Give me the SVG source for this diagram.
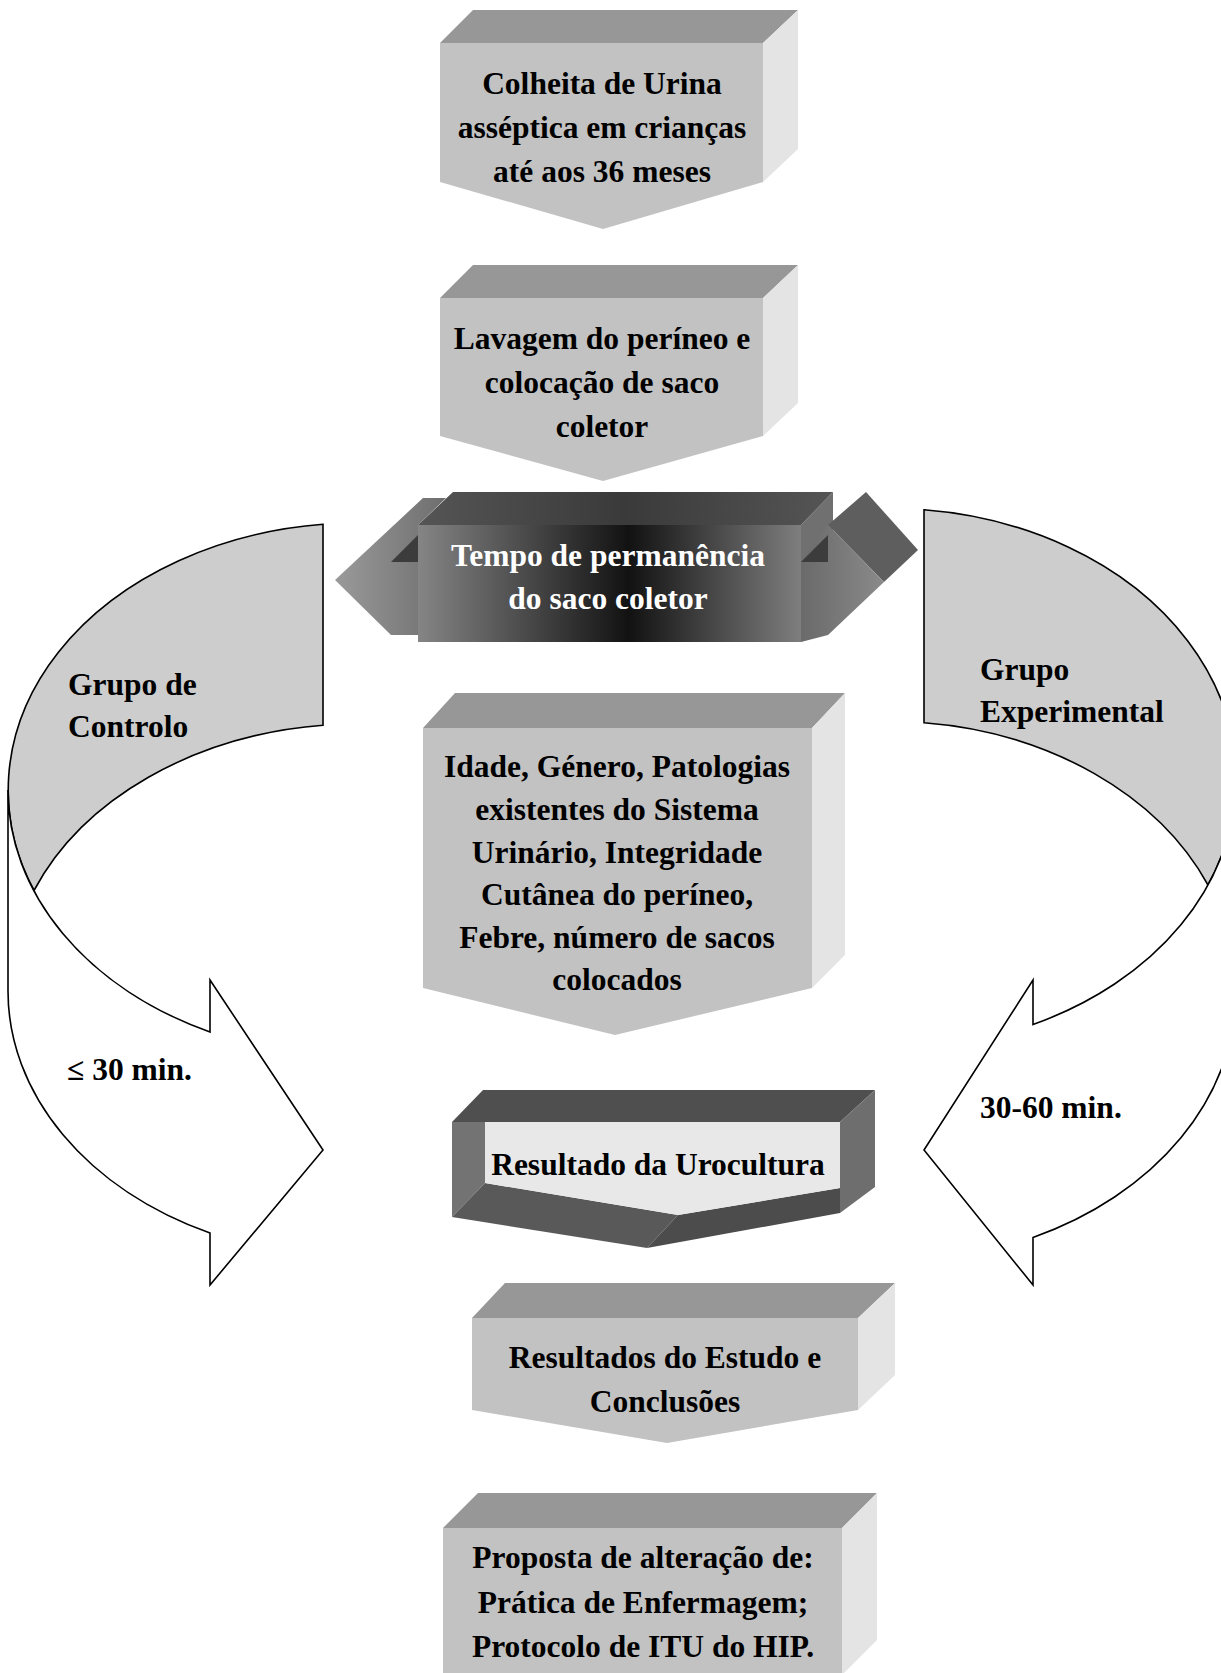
<svg xmlns="http://www.w3.org/2000/svg" width="1221" height="1673" viewBox="0 0 1221 1673">
<style>
text{font-family:"Liberation Serif","Times New Roman",serif;font-weight:bold;font-size:31.5px;fill:#000;text-anchor:middle}
.lbl{text-anchor:start}
.wt{fill:#fff}
.top{fill:#979797}
.front{fill:#c2c2c2}
.side{fill:#e4e4e4}
.band{fill:#cdcdcd;stroke:#000;stroke-width:1.6}
.white{fill:#fff;stroke:#000;stroke-width:1.6}
</style>
<defs>
<linearGradient id="gFront" x1="0" y1="0" x2="1" y2="0">
<stop offset="0" stop-color="#858585"/>
<stop offset="0.55" stop-color="#121212"/>
<stop offset="1" stop-color="#7e7e7e"/>
</linearGradient>
<linearGradient id="gTop" x1="0" y1="0" x2="1" y2="0">
<stop offset="0" stop-color="#555"/>
<stop offset="0.5" stop-color="#3a3a3a"/>
<stop offset="1" stop-color="#555"/>
</linearGradient>
<linearGradient id="gHeadL" x1="0" y1="0" x2="1" y2="0">
<stop offset="0" stop-color="#9a9a9a"/>
<stop offset="1" stop-color="#6e6e6e"/>
</linearGradient>
<linearGradient id="gHeadR" x1="0" y1="0" x2="1" y2="0">
<stop offset="0" stop-color="#6a6a6a"/>
<stop offset="1" stop-color="#8a8a8a"/>
</linearGradient>
</defs>

<g id="connectors">
<g id="arrow-controlo">
<path class="band" d="M323,524.3 A350,267 0 0 0 34,890.5 A350,267 0 0 1 323,725.3 Z"/>
<path class="white" d="M8,790 L8,991 A350,267 0 0 0 210,1233 L210,1285 L323,1150 L210,980 L210,1032 A350,267 0 0 1 8,790 Z"/>
<text class="lbl" x="68" y="695">Grupo de</text>
<text class="lbl" x="68" y="737">Controlo</text>
<text class="lbl" x="67" y="1080">≤ 30 min.</text>
</g>
<g id="arrow-experimental">
<path class="band" d="M924,509.8 A346,270 0 0 1 1208,885 A346,270 0 0 0 924,722.8 Z"/>
<path class="white" d="M1236,778.5 L1236,991.5 A346,270 0 0 1 1033,1237.5 L1033,1285 L924,1150 L1033,980 L1033,1024.5 A346,270 0 0 0 1236,778.5 Z"/>
<text class="lbl" x="980" y="680">Grupo</text>
<text class="lbl" x="980" y="722">Experimental</text>
<text class="lbl" x="980" y="1118">30-60 min.</text>
</g>
</g>

<g id="n1">
<polygon class="top" points="440,43 473,10 798,10 763,43"/>
<polygon class="side" points="763,43 798,10 798,149 763,182"/>
<polygon class="front" points="440,43 763,43 763,182 603,229 440,182"/>
<text x="602" y="94">Colheita de Urina</text>
<text x="602" y="138">asséptica em crianças</text>
<text x="602" y="182">até aos 36 meses</text>
</g>

<g id="n2">
<polygon class="top" points="440,298 473,265 798,265 763,298"/>
<polygon class="side" points="763,298 798,265 798,403 763,436"/>
<polygon class="front" points="440,298 763,298 763,436 603,481 440,436"/>
<text x="602" y="349">Lavagem do períneo e</text>
<text x="602" y="393">colocação de saco</text>
<text x="602" y="437">coletor</text>
</g>

<g id="n3">
<polygon fill="url(#gHeadL)" points="335,580 423,498 446,498 418,525 418,635 391,635"/>
<polygon fill="#3c3c3c" points="391,562 418,535 418,562"/>
<polygon fill="#707070" points="801,525 833,492 833,610 801,642"/>
<polygon fill="#5e5e5e" points="828,525 866,492 918,550 884,582"/>
<polygon fill="url(#gHeadR)" points="801,562 828,525 884,582 828,635 801,642"/>
<polygon fill="#3c3c3c" points="801,562 828,535 828,562"/>
<polygon fill="url(#gTop)" points="418,525 453,492 833,492 801,525"/>
<rect x="418" y="525" width="383" height="117" fill="url(#gFront)"/>
<text class="wt" x="608" y="566">Tempo de permanência</text>
<text class="wt" x="608" y="609">do saco coletor</text>
</g>

<g id="n4">
<polygon class="top" points="423,728 455,693 845,693 812,728"/>
<polygon class="side" points="812,728 845,693 845,955 812,988"/>
<polygon class="front" points="423,728 812,728 812,988 615,1035 423,988"/>
<text x="617" y="777">Idade, Género, Patologias</text>
<text x="617" y="820">existentes do Sistema</text>
<text x="617" y="863">Urinário, Integridade</text>
<text x="617" y="905">Cutânea do períneo,</text>
<text x="617" y="948">Febre, número de sacos</text>
<text x="617" y="990">colocados</text>
</g>

<g id="n5">
<polygon fill="#4f4f4f" points="452,1122 483,1090 875,1090 840,1122"/>
<polygon fill="#6e6e6e" points="840,1122 875,1090 875,1187 840,1213"/>
<polygon fill="#737373" points="452,1122 485,1122 485,1183 452,1217"/>
<polygon fill="#595959" points="452,1217 485,1183 678,1215 647,1248"/>
<polygon fill="#4c4c4c" points="647,1248 678,1215 840,1188 840,1213"/>
<polygon fill="#e8e8e8" points="485,1122 840,1122 840,1188 678,1215 485,1183"/>
<text x="658" y="1175">Resultado da Urocultura</text>
</g>

<g id="n6">
<polygon class="top" points="472,1318 505,1283 895,1283 858,1318"/>
<polygon class="side" points="858,1318 895,1283 895,1375 858,1410"/>
<polygon class="front" points="472,1318 858,1318 858,1410 667,1443 472,1410"/>
<text x="665" y="1368">Resultados do Estudo e</text>
<text x="665" y="1412">Conclusões</text>
</g>

<g id="n7">
<polygon class="top" points="443,1528 478,1493 877,1493 842,1528"/>
<polygon class="side" points="842,1528 877,1493 877,1640 842,1675"/>
<polygon class="front" points="443,1528 842,1528 842,1680 443,1680"/>
<text x="643" y="1568">Proposta de alteração de:</text>
<text x="643" y="1613">Prática de Enfermagem;</text>
<text x="643" y="1657">Protocolo de ITU do HIP.</text>
</g>
</svg>
